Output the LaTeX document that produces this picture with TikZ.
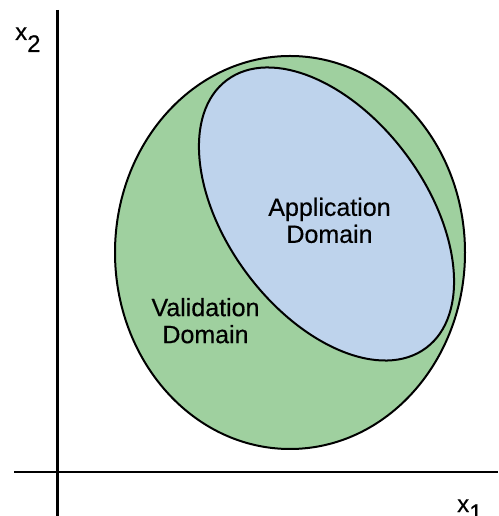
\documentclass[tikz,border=0pt]{standalone}
\usepackage{fontspec}
\setmainfont{Liberation Sans}[BoldFont={Liberation Sans},BoldFeatures={FakeBold=0.4}]
\definecolor{vgreen}{RGB}{159,208,159}
\definecolor{ablue}{RGB}{190,211,236}
\begin{document}
\begin{tikzpicture}[x=1pt,y=1pt,
  axisline/.style={line width=2.2pt},
  region/.style={draw=black,line width=2pt},
  domainlabel/.style={align=center,inner sep=0pt,font=\fontsize{25}{27}\selectfont\bfseries},
  axislabel/.style={inner sep=0pt,anchor=base west,font=\fontsize{24}{26}\selectfont\bfseries}]
  \useasboundingbox (0,0) rectangle (498,516);

  % axes
  \draw[axisline] (57.5,506) -- (57.5,0);
  \draw[axisline] (14,44) -- (498,44);
  \node[axislabel] (xtwo) at (15,476) {x\raisebox{-12pt}{2}};
  \node[axislabel] (xone) at (457,4) {x\raisebox{-9pt}{1}};

  % validation domain
  \draw[region,fill=vgreen] (290,263.5) ellipse [x radius=175pt, y radius=196.5pt];
  % application domain, tilted inside it
  \draw[region,fill=ablue] (326.5,302) ellipse [x radius=166.9pt, y radius=99.4pt, rotate=-53.4];

  \node[domainlabel] (app) at (329.5,295.6) {Application\\Domain};
  \node[domainlabel] (val) at (205.5,195.3) {Validation\\Domain};
\end{tikzpicture}
\end{document}
